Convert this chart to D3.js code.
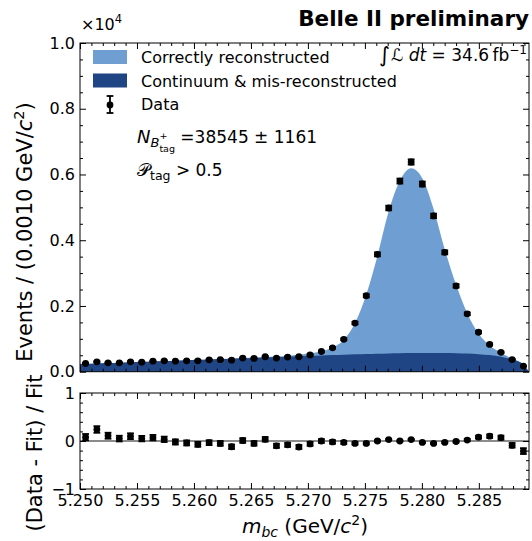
<!DOCTYPE html>
<html><head><meta charset="utf-8">
<script src="https://cdn.jsdelivr.net/npm/d3@7"></script>
<style>
body{margin:0;background:#fff}
text{font-family:"DejaVu Sans",sans-serif;fill:#000;white-space:pre}
</style>
</head><body>
<svg id="c" width="532" height="541"></svg>
<script>
// ---------- data ----------
const binCenters = [5.25049,5.25148,5.25246,5.25345,5.25443,5.25542,5.25640,5.25739,5.25837,5.25936,
  5.26034,5.26133,5.26231,5.26330,5.26428,5.26527,5.26625,5.26724,5.26822,5.26921,
  5.27019,5.27118,5.27216,5.27315,5.27413,5.27512,5.27610,5.27709,5.27807,5.27906,
  5.28004,5.28103,5.28201,5.28300,5.28398,5.28497,5.28595,5.28694,5.28792,5.28891];
const dataCounts = [250,300,270,270,300,290,320,330,320,330,
  330,360,365,350,415,405,455,415,445,455,
  510,615,725,985,1480,2310,3570,4980,5800,6380,
  5710,4740,3630,2610,1760,1200,830,590,370,170];
const bkgFit = [240,252,264,276,288,300,312,324,336,348,
  360,372,384,396,408,420,432,444,457,470,
  483,495,507,518,528,538,547,555,562,567,
  570,571,569,563,552,534,505,455,370,215];
const sigFit = [0,0,0,0,0,0,0,0,0,0,
  0,0,0,5,8,10,15,22,32,48,
  75,125,230,450,950,1810,2970,4325,5250,5625,
  5318,4379,3151,2087,1228,626,295,125,30,0];
const pullValues = [0.08,0.24,0.11,0.05,0.10,0.05,0.07,0.035,-0.02,-0.04,
  -0.07,-0.035,-0.05,-0.12,0.01,-0.05,0.035,-0.10,-0.08,-0.125,
  -0.06,0.00,-0.02,-0.03,-0.05,-0.05,0.00,0.03,0.00,0.03,
  -0.03,-0.05,-0.03,-0.01,0.02,0.08,0.10,0.07,-0.09,-0.21];
const massRange = [5.25, 5.2894];
const edgeBkg = [234, 0];
const xTicks = [5.250,5.255,5.260,5.265,5.270,5.275,5.280,5.285];
const xTickLabels = ["5.250","5.255","5.260","5.265","5.270","5.275","5.280","5.285"];
const yTopTicks = [0,2000,4000,6000,8000,10000];
const yTopTickLabels = ["0.0","0.2","0.4","0.6","0.8","1.0"];
const yBotTicks = [-1,0,1];
const yBotTickLabels = ["\u22121","0","1"];
const legendLabels = ["Correctly reconstructed","Continuum & mis-reconstructed","Data"];

// ---------- layout ----------
const L = 80, R = 529;
const T1 = 43, B1 = 371.7, T2 = 393, B2 = 489;
const cLight = "#6f9fd2", cDark = "#1f4584";
const svg = d3.select("#c");

const x = d3.scaleLinear().domain(massRange).range([L, R]);
const yT = d3.scaleLinear().domain([0, 10000]).range([B1, T1]);
const yB = d3.scaleLinear().domain([-1, 1]).range([B2, T2]);

const defs = svg.append("defs");
defs.append("clipPath").attr("id","clipTop").append("rect").attr("x",L).attr("y",T1).attr("width",R-L).attr("height",B1-T1);
defs.append("clipPath").attr("id","clipBot").append("rect").attr("x",L).attr("y",T2).attr("width",R-L).attr("height",B2-T2);

// ---------- fit areas ----------
const fitRows = [{m: massRange[0], b: edgeBkg[0], s: 0}]
  .concat(binCenters.map((m,i)=>({m, b: bkgFit[i], s: sigFit[i]})))
  .concat([{m: massRange[1], b: edgeBkg[1], s: 0}]);
const gTop = svg.append("g").attr("clip-path","url(#clipTop)");
gTop.append("path").datum(fitRows)
  .attr("fill", cLight)
  .attr("d", d3.area().curve(d3.curveMonotoneX).x(d=>x(d.m)).y0(yT(0)).y1(d=>yT(d.b+d.s)));
gTop.append("path").datum(fitRows)
  .attr("fill", cDark)
  .attr("d", d3.area().curve(d3.curveMonotoneX).x(d=>x(d.m)).y0(yT(0)).y1(d=>yT(d.b)));

// ---------- data points ----------
const dataRows = binCenters.map((m,i)=>({m, n: dataCounts[i], e: Math.sqrt(dataCounts[i]),
  p: pullValues[i], pe: Math.sqrt(dataCounts[i])/(bkgFit[i]+sigFit[i])}));
const capW = 3.4, lw = 1.8, mr = 3.4;
function drawPoints(g, rows, yv, ye, yScale){
  const pg = g.selectAll("g.pt").data(rows).join("g").attr("class","pt");
  pg.append("line").attr("x1",d=>x(d.m)).attr("x2",d=>x(d.m))
    .attr("y1",d=>yScale(yv(d)-ye(d))).attr("y2",d=>yScale(yv(d)+ye(d)))
    .attr("stroke","#000").attr("stroke-width",lw);
  [1,-1].forEach(sg=>{
    pg.append("line").attr("x1",d=>x(d.m)-capW).attr("x2",d=>x(d.m)+capW)
      .attr("y1",d=>yScale(yv(d)+sg*ye(d))).attr("y2",d=>yScale(yv(d)+sg*ye(d)))
      .attr("stroke","#000").attr("stroke-width",lw);
  });
  pg.append("circle").attr("cx",d=>x(d.m)).attr("cy",d=>yScale(yv(d))).attr("r",mr).attr("fill","#000");
}
drawPoints(svg.append("g"), dataRows, d=>d.n, d=>d.e, yT);

svg.append("line").attr("x1",L).attr("x2",R).attr("y1",yB(0)).attr("y2",yB(0))
  .attr("stroke","#8c8c8c").attr("stroke-width",2);
drawPoints(svg.append("g").attr("clip-path","url(#clipBot)"), dataRows, d=>d.p, d=>d.pe, yB);

// ---------- axes ----------
const major = 6, minor = 3;
function styleAxis(g){ g.select(".domain").remove(); g.selectAll("line").attr("stroke","#000").attr("stroke-width",1); g.selectAll("text").attr("font-size",16).attr("font-family","DejaVu Sans").attr("fill","#000"); }
const xMinor = x.ticks(40).filter(v=>!xTicks.some(t=>Math.abs(t-v)<1e-7));
const yTMinor = yT.ticks(20).filter(v=>!yTopTicks.includes(v));
const yBMinor = yB.ticks(10).filter(v=>!yBotTicks.some(t=>Math.abs(t-v)<1e-7));

function xAxes(top, bottom, labels){
  styleAxis(svg.append("g").attr("transform",`translate(0,${bottom})`)
    .call(d3.axisBottom(x).tickValues(xTicks).tickSize(-major).tickPadding(6)
      .tickFormat((d,i)=>labels ? xTickLabels[i] : "")));
  styleAxis(svg.append("g").attr("transform",`translate(0,${bottom})`)
    .call(d3.axisBottom(x).tickValues(xMinor).tickSize(-minor).tickFormat("")));
  styleAxis(svg.append("g").attr("transform",`translate(0,${top})`)
    .call(d3.axisTop(x).tickValues(xTicks).tickSize(-major).tickFormat("")));
  styleAxis(svg.append("g").attr("transform",`translate(0,${top})`)
    .call(d3.axisTop(x).tickValues(xMinor).tickSize(-minor).tickFormat("")));
}
function yAxes(scale, ticks, labels, minorT){
  styleAxis(svg.append("g").attr("transform",`translate(${L},0)`)
    .call(d3.axisLeft(scale).tickValues(ticks).tickSize(-major).tickPadding(5).tickFormat((d,i)=>labels[i])));
  styleAxis(svg.append("g").attr("transform",`translate(${L},0)`)
    .call(d3.axisLeft(scale).tickValues(minorT).tickSize(-minor).tickFormat("")));
  styleAxis(svg.append("g").attr("transform",`translate(${R},0)`)
    .call(d3.axisRight(scale).tickValues(ticks).tickSize(-major).tickFormat("")));
  styleAxis(svg.append("g").attr("transform",`translate(${R},0)`)
    .call(d3.axisRight(scale).tickValues(minorT).tickSize(-minor).tickFormat("")));
}
xAxes(T1, B1, false);
xAxes(T2, B2, true);
yAxes(yT, yTopTicks, yTopTickLabels, yTMinor);
yAxes(yB, yBotTicks, yBotTickLabels, yBMinor);

[[T1,B1],[T2,B2]].forEach(([t,b])=>svg.append("rect").attr("x",L).attr("y",t).attr("width",R-L).attr("height",b-t)
  .attr("fill","none").attr("stroke","#000").attr("stroke-width",1));

// ---------- rich text helper ----------
function rich(parent, x0, y0, pieces, anchor, rotate){
  const g = parent.append("g");
  const inner = g.append("g");
  let cx = 0, lastStart = 0;
  pieces.forEach(p=>{
    const sx = (p.stack ? lastStart : cx) + (p.dx||0);
    const t = inner.append("text").attr("x",sx).attr("y",p.dy||0)
      .attr("xml:space","preserve")
      .attr("font-size",p.size).attr("font-style",p.it?"italic":"normal")
      .attr("font-weight",p.bold?"bold":"normal").text(p.t);
    if(p.fam) t.attr("font-family",p.fam);
    const w = t.node().getComputedTextLength();
    if(!p.stack) lastStart = sx;
    cx = p.stack ? Math.max(cx, sx+w) : sx+w;
  });
  const off = anchor==="end" ? -cx : anchor==="middle" ? -cx/2 : 0;
  inner.attr("transform",`translate(${off},0)`);
  g.attr("transform",`translate(${x0},${y0})` + (rotate?` rotate(${rotate})`:""));
  return g;
}

svg.append("text").attr("x",529).attr("y",26).attr("text-anchor","end")
  .attr("font-size",21.5).attr("font-weight","bold").text("Belle II preliminary");
rich(svg, 81, 30, [{t:"\u00d710",size:16},{t:"4",size:11.5,dy:-7}]);

rich(svg, 527, 61, [
  {t:"\u222b",size:21,dy:1},
  {t:"\u2112",size:17,it:true,dx:1},
  {t:" dt",size:17,it:true},
  {t:" = 34.6\u2009fb",size:17},
  {t:"\u22121",size:12,dy:-7}
], "end");

const legX = 93, legW = 34, legH = 14;
svg.append("rect").attr("x",legX).attr("y",50).attr("width",legW).attr("height",legH).attr("fill",cLight);
svg.append("rect").attr("x",legX).attr("y",73.5).attr("width",legW).attr("height",legH).attr("fill",cDark);
[[legendLabels[0],63],[legendLabels[1],87],[legendLabels[2],110]].forEach(([t,yy])=>
  svg.append("text").attr("x",141).attr("y",yy).attr("font-size",16).text(t));
const lx = legX+legW/2, ly = 105;
svg.append("line").attr("x1",lx).attr("x2",lx).attr("y1",ly-9).attr("y2",ly+8).attr("stroke","#000").attr("stroke-width",lw);
[ly-9, ly+8].forEach(v=>svg.append("line").attr("x1",lx-capW).attr("x2",lx+capW).attr("y1",v).attr("y2",v).attr("stroke","#000").attr("stroke-width",lw));
svg.append("circle").attr("cx",lx).attr("cy",ly).attr("r",mr).attr("fill","#000");

rich(svg, 137, 143, [
  {t:"N",size:18,it:true},
  {t:"B",size:13,it:true,dy:4},
  {t:"+",size:9.5,dy:-4},
  {t:"tag",size:9.5,dy:9,stack:true},
  {t:" =38545 \u00b1 1161",size:17}
]);
rich(svg, 137, 176, [
  {t:"\ud835\udcab",size:18},
  {t:"tag",size:12.5,dy:4},
  {t:" > 0.5",size:17}
]);

rich(svg, 305, 533, [
  {t:"m",size:20,it:true},
  {t:"bc",size:14,it:true,dy:4},
  {t:" (GeV/",size:20},
  {t:"c",size:20,it:true},
  {t:"2",size:14,dy:-8},
  {t:")",size:20}
], "middle");
rich(svg, 32, 232, [
  {t:"Events / (0.0010 GeV/",size:21},
  {t:"c",size:21,it:true},
  {t:"2",size:14.5,dy:-8},
  {t:")",size:21}
], "middle", -90);
rich(svg, 42, 453, [
  {t:"(Data - Fit) / Fit",size:21}
], "middle", -90);
</script>
</body></html>
